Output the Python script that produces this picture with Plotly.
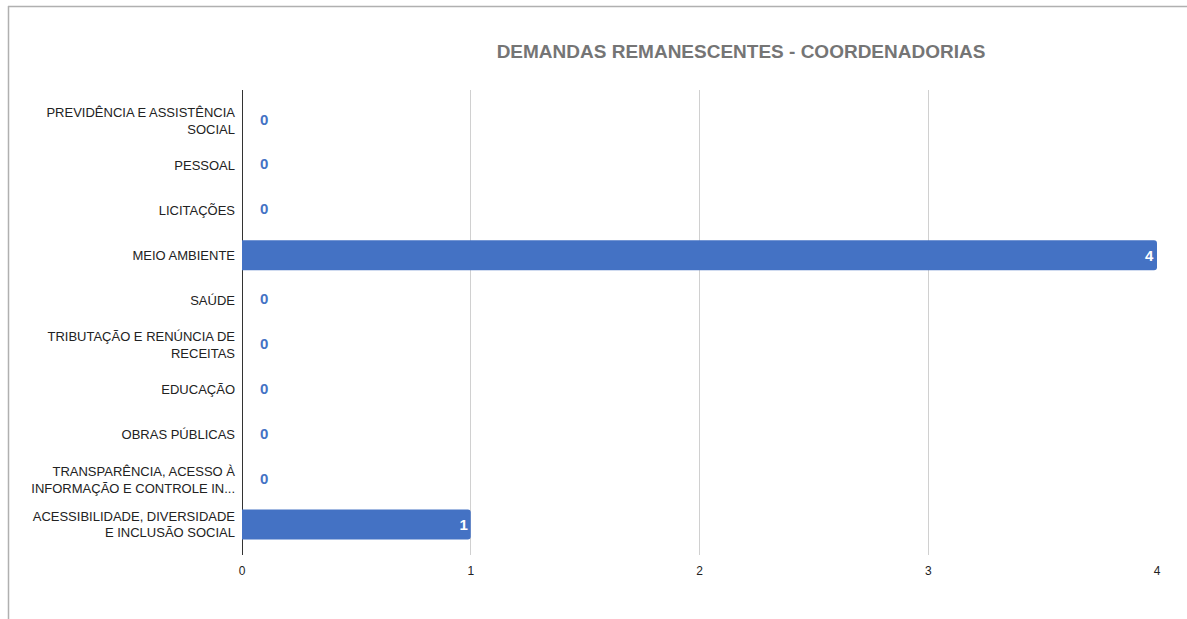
import plotly.graph_objects as go

categories = [
    "PREVIDÊNCIA E ASSISTÊNCIA<br>SOCIAL",
    "PESSOAL",
    "LICITAÇÕES",
    "MEIO AMBIENTE",
    "SAÚDE",
    "TRIBUTAÇÃO E RENÚNCIA DE<br>RECEITAS",
    "EDUCAÇÃO",
    "OBRAS PÚBLICAS",
    "TRANSPARÊNCIA, ACESSO À<br>INFORMAÇÃO E CONTROLE IN...",
    "ACESSIBILIDADE, DIVERSIDADE<br>E INCLUSÃO SOCIAL",
]
values = [0, 0, 0, 4, 0, 0, 0, 0, 0, 1]
x_ticks = [0, 1, 2, 3, 4]
title_text = "DEMANDAS REMANESCENTES - COORDENADORIAS"

BAR = "#4472c4"
FONT = "Liberation Sans, Arial, sans-serif"

fig = go.Figure(go.Bar(
    x=values,
    y=categories,
    orientation="h",
    marker=dict(color=BAR, cornerradius=3, line=dict(width=0)),
    width=0.67,
    text=[str(v) if v > 0 else "" for v in values],
    textposition="inside",
    insidetextanchor="end",
    insidetextfont=dict(color="white", size=15, family=FONT, weight="bold"),
    cliponaxis=False,
    hoverinfo="skip",
))

# labels for zero-valued bars, placed from the data values
annotations = [
    dict(x=v, y=c, xref="x", yref="y", text=str(v), showarrow=False,
         xanchor="left", yanchor="middle", xshift=16, yshift=1.5,
         font=dict(color=BAR, size=15, family=FONT, weight="bold"))
    for c, v in zip(categories, values) if v == 0
]

L, R, T, B = 242, 30, 90, 64
W, H = 1187, 619
pw = W - L - R
ph = H - T - B

def px_x(p):
    return (p - L) / pw

def px_y(p):
    return (H - B - p) / ph

border = "#b0b0b0"
shapes = [
    dict(type="line", xref="paper", yref="paper",
         x0=px_x(8), x1=px_x(W + 2), y0=px_y(6.5), y1=px_y(6.5),
         line=dict(color=border, width=1.5)),
    dict(type="line", xref="paper", yref="paper",
         x0=px_x(8.5), x1=px_x(8.5), y0=px_y(6), y1=px_y(H + 2),
         line=dict(color=border, width=1.5)),
]

fig.update_layout(
    width=W, height=H,
    margin=dict(l=L, r=R, t=T, b=B, autoexpand=False),
    paper_bgcolor="white",
    plot_bgcolor="white",
    showlegend=False,
    title=dict(text=title_text, xref="container", x=741 / W, xanchor="center",
               yref="container", y=1 - 51 / H, yanchor="middle",
               font=dict(family=FONT, size=19, color="#757575", weight="bold")),
    font=dict(family=FONT, color="#222222"),
    shapes=shapes,
    annotations=annotations,
    xaxis=dict(
        range=[0, 4], tickvals=x_ticks, ticktext=[str(t) for t in x_ticks],
        showgrid=True, gridcolor="#d0d0d0", gridwidth=1,
        zeroline=True, zerolinecolor="#333333", zerolinewidth=1,
        showline=False, ticks="", ticklabelstandoff=7,
        tickfont=dict(size=12, color="#222222", family=FONT),
        fixedrange=True,
    ),
    yaxis=dict(
        type="category", categoryorder="array", categoryarray=categories,
        range=[9.68, -0.68],
        showgrid=False, zeroline=False, showline=False, ticks="",
        ticklabelstandoff=6,
        tickfont=dict(size=13, color="#222222", family=FONT),
        fixedrange=True,
    ),
)

fig.write_html(
    "out.html",
    config={"displayModeBar": False},
    post_script="document.body.style.margin='0';document.body.style.overflow='hidden';",
)
